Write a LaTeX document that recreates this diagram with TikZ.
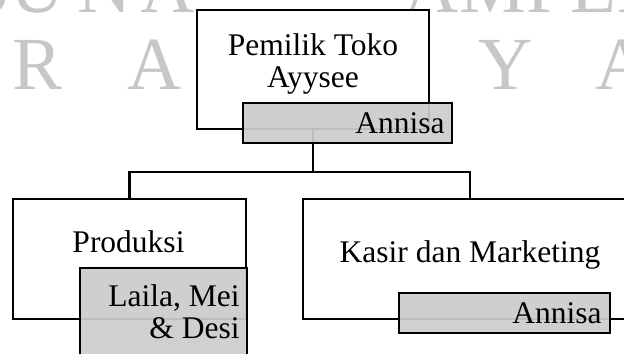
\documentclass[tikz,border=0pt]{standalone}
\usepackage{fontspec}
\setmainfont{Liberation Serif}
\usetikzlibrary{positioning, calc, backgrounds}

\definecolor{tagfill}{RGB}{204,204,204}
\newcommand{\boxfont}{\fontsize{15.75}{16}\selectfont}
\newcommand{\wmfont}{\fontsize{37.5}{40}\selectfont}

\begin{document}
\begin{tikzpicture}[
    x=0.5pt, y=-0.5pt,
    orgbox/.style={rectangle, draw, fill=white, line width=1.1pt, inner sep=0pt},
    tagbox/.style={rectangle, draw, fill=tagfill, fill opacity=0.93, draw opacity=1, line width=1.1pt, inner sep=0pt},
    boxtext/.style={font=\boxfont, align=center, inner sep=0pt},
    nametext/.style={font=\boxfont, align=right, inner sep=0pt, anchor=base east},
    wmark/.style={font=\wmfont, text=black!22, inner sep=0pt, anchor=base},
    link/.style={draw, line width=1.1pt}
]
    \useasboundingbox (0,0) rectangle (624,353);
    \clip (0,0) rectangle (624,353);

    % Watermark (only the letters left uncovered)
    \foreach \ch/\xx [count=\i] in {S/-11, U/38, N/105, A/168, A/432, M/493, P/547, E/593, L/640}
        \node [wmark] (wa\i) at (\xx,13) {\ch};
    \foreach \ch/\xx [count=\i] in {R/38, A/155, Y/506, A/623}
        \node [wmark] (wb\i) at (\xx,90) {\ch};

    % Boxes
    \node [orgbox, minimum width=116pt, minimum height=59.5pt] (owner) at (313,69.5) {};
    \node [orgbox, minimum width=116.5pt, minimum height=60pt] (prod) at (129.5,259) {};
    \node [orgbox, minimum width=167pt, minimum height=60pt] (kasir) at (470,259) {};

    % Connections
    \coordinate (hub) at (313,172);
    \path [link] (owner) -- (hub);
    \path [link] (hub) -| (prod);
    \path [link] (hub) -| (kasir);

    % Name tags
    \node [tagbox, minimum width=104.5pt, minimum height=20pt] (ownertag) at (347.5,123) {};
    \node [tagbox, minimum width=83.5pt, minimum height=50pt] (prodtag) at (163.5,318) {};
    \node [tagbox, minimum width=105.5pt, minimum height=20pt] (kasirtag) at (504.5,313) {};

    % Texts
    \node [boxtext, anchor=base] (ownertext) at (313,88) {Pemilik Toko\\Ayysee};
    \node [boxtext, anchor=base] (prodtext) at (128.5,252) {Produksi};
    \node [boxtext, anchor=base] (kasirtext) at (470,262) {Kasir dan Marketing};
    \node [nametext] (ownername) at (445,133) {Annisa};
    \node [nametext] (prodname) at (240,338) {Laila, Mei\\\& Desi};
    \node [nametext] (kasirname) at (602,323) {Annisa};
\end{tikzpicture}
\end{document}
